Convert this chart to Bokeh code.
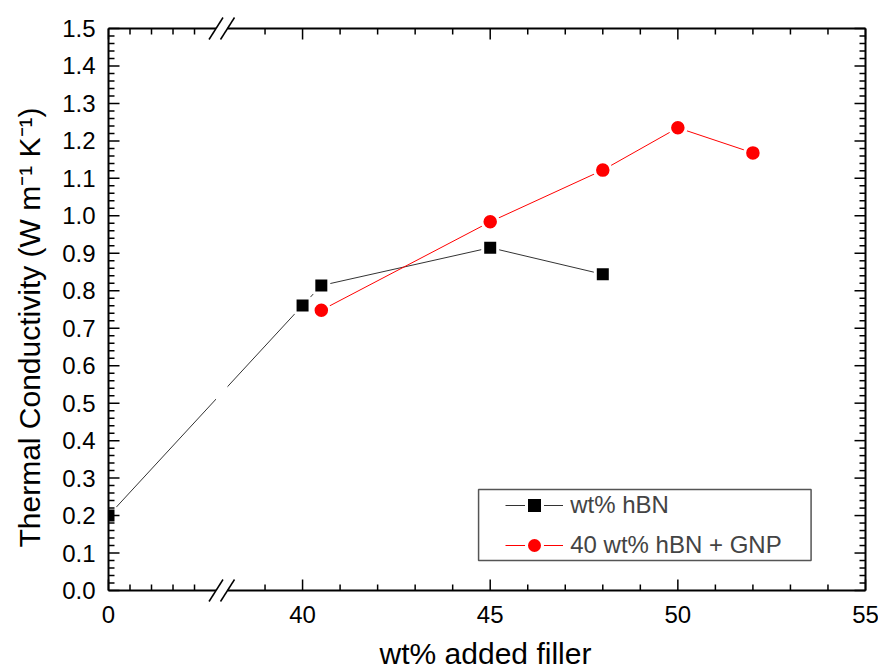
import math
from bokeh.plotting import figure
from bokeh.models import Range1d, Legend, LegendItem
from bokeh.core.properties import value
from bokeh.embed import file_html
from bokeh.resources import INLINE

# ---------------- data ----------------
hbn_wt = [0, 40, 40.5, 45, 48]
hbn_k = [0.200, 0.761, 0.814, 0.915, 0.844]

gnp_wt = [40.5, 45, 48, 50, 52]
gnp_k = [0.748, 0.984, 1.122, 1.235, 1.168]

x_major = [0, 40, 45, 50, 55]
x_labels = ["0", "40", "45", "50", "55"]
x_minor = [1, 2, 3, 4, 39, 41, 42, 43, 44, 46, 47, 48, 49, 51, 52, 53, 54]
y_major = [0.0, 0.1, 0.2, 0.3, 0.4, 0.5, 0.6, 0.7, 0.8, 0.9, 1.0, 1.1, 1.2, 1.3, 1.4, 1.5]
y_labels = ["%.1f" % v for v in y_major]
y_minor = [round(m + k * 0.02, 2) for m in y_major[:-1] for k in (1, 2, 3, 4)]

X_TITLE = "wt% added filler"
Y_TITLE = "Thermal Conductivity (W m\u207b\u00b9 K\u207b\u00b9)"
hbn_name = "wt% hBN"
gnp_name = "40 wt% hBN + GNP"

Y_MIN, Y_MAX = 0.0, 1.5

# legend box (data units) and legend anchor
legend_box_x = [44.69, 53.55]
legend_box_y = [0.080, 0.2696]
LEG_GLYPH_X = 45.52
LEG_BOTTOM_Y = 0.0667

# ---------------- broken x axis ----------------
LEFT_END = 5.0       # left segment: 0 .. 5
RIGHT_START = 38.0   # right segment: 38 .. 55
LEFT_SCALE = 0.573
GAP = 0.306
X_MAX = 55


def u(x):
    if x <= LEFT_END:
        return x * LEFT_SCALE
    return LEFT_END * LEFT_SCALE + GAP + (x - RIGHT_START)


U_MAX = u(X_MAX)

# ---------------- layout (px) ----------------
FONT = "Liberation Sans"
W, H = 878, 671
BOX_L, BOX_R, BOX_T, BOX_B = 108, 865, 28, 590
pxu = (BOX_R - BOX_L) / U_MAX
pxy = (BOX_B - BOX_T) / (Y_MAX - Y_MIN)

x_rng = Range1d(-BOX_L / pxu, U_MAX + (W - BOX_R) / pxu)
y_rng = Range1d(Y_MIN - (H - BOX_B) / pxy, Y_MAX + BOX_T / pxy)

p = figure(width=W, height=H, output_backend="svg", toolbar_location=None,
           x_range=x_rng, y_range=y_rng, x_axis_type=None, y_axis_type=None,
           title_location=None,
           min_border=0, min_border_left=0, min_border_right=0,
           min_border_top=0, min_border_bottom=0)
p.outline_line_color = None
p.background_fill_color = "white"
p.border_fill_color = "white"

# ---------------- series ----------------
hbn_u = [u(v) for v in hbn_wt]
gnp_u = [u(v) for v in gnp_wt]

l1 = p.line(hbn_u, hbn_k, line_color="#333333", line_width=1)
l2 = p.line(gnp_u, gnp_k, line_color="#ff0000", line_width=1)

# gap in the line at the axis break
p.quad(left=u(LEFT_END), right=u(RIGHT_START), bottom=0.03, top=1.47,
       fill_color="white", line_color=None)

s1 = p.scatter(hbn_u, hbn_k, marker="square", size=15, fill_color="black",
               line_color="white", line_width=3)
s2 = p.scatter(gnp_u, gnp_k, marker="circle", size=16.5, fill_color="#ff0000",
               line_color="white", line_width=3)

# clip marks to the axes box on the left
p.quad(left=-9 / pxu, right=0, bottom=Y_MIN, top=Y_MAX, fill_color="white", line_color=None)

# ---------------- axes box with inward ticks ----------------
MAJ, MIN = 11, 6
ax_x0 = [0, u(RIGHT_START), 0, u(RIGHT_START), 0, U_MAX]
ax_x1 = [u(LEFT_END), U_MAX, u(LEFT_END), U_MAX, 0, U_MAX]
ax_y0 = [Y_MIN, Y_MIN, Y_MAX, Y_MAX, Y_MIN, Y_MIN]
ax_y1 = [Y_MIN, Y_MIN, Y_MAX, Y_MAX, Y_MAX, Y_MAX]
p.segment(ax_x0, ax_y0, ax_x1, ax_y1, line_color="black", line_width=2)

tx0, ty0, tx1, ty1 = [], [], [], []
for ticks, ln in ((x_major, MAJ), (x_minor, MIN)):
    for v in ticks:
        xu = u(v)
        tx0 += [xu, xu]
        tx1 += [xu, xu]
        ty0 += [Y_MIN, Y_MAX]
        ty1 += [Y_MIN + ln / pxy, Y_MAX - ln / pxy]
for ticks, ln in ((y_major, MAJ), (y_minor, MIN)):
    for v in ticks:
        ty0 += [v, v]
        ty1 += [v, v]
        tx0 += [0, U_MAX]
        tx1 += [ln / pxu, U_MAX - ln / pxu]
p.segment(tx0, ty0, tx1, ty1, line_color="black", line_width=1.5)

# break marks
dx, dy = 7 / pxu, 11 / pxy
bx0, by0, bx1, by1 = [], [], [], []
for yb in (Y_MIN, Y_MAX):
    for xc in (u(LEFT_END), u(RIGHT_START)):
        bx0.append(xc - dx)
        by0.append(yb - dy)
        bx1.append(xc + dx)
        by1.append(yb + dy)
p.segment(bx0, by0, bx1, by1, line_color="black", line_width=1.5)

# ---------------- tick labels and titles ----------------
TICK_FS = 24
p.text(x=[u(v) for v in x_major], y=[Y_MIN - 23.7 / pxy] * len(x_major), text=x_labels,
       text_font=value(FONT), text_font_size="%dpx" % TICK_FS, text_color="black",
       text_align="center", text_baseline="middle")
p.text(x=[-13 / pxu] * len(y_major), y=y_major,
       text=y_labels, text_font=value(FONT), text_font_size="%dpx" % TICK_FS,
       text_color="black", text_align="right", text_baseline="middle")
p.text(x=[U_MAX / 2 - 1.5 / pxu], y=[Y_MIN - 63 / pxy], text=[X_TITLE],
       text_font=value(FONT), text_font_size="30px", text_color="black",
       text_align="center", text_baseline="middle")
p.text(x=[-79 / pxu], y=[Y_MIN + 263 / pxy], text=[Y_TITLE], angle=math.pi / 2,
       text_font=value(FONT), text_font_size="30px", text_color="black",
       text_align="center", text_baseline="middle")

# ---------------- legend ----------------
p.quad(left=u(legend_box_x[0]), right=u(legend_box_x[1]),
       bottom=legend_box_y[0], top=legend_box_y[1],
       fill_color="white", line_color="#555555", line_width=1.5)

LEG_PAD = 4
leg_x = (u(LEG_GLYPH_X) - x_rng.start) * pxu - LEG_PAD
leg_y = (LEG_BOTTOM_Y - y_rng.start) * pxy

legend = Legend(items=[LegendItem(label=hbn_name, renderers=[l1, s1]),
                       LegendItem(label=gnp_name, renderers=[l2, s2])],
                location=(leg_x, leg_y),
                label_text_font=FONT, label_text_font_size="24px",
                glyph_width=58, glyph_height=40, spacing=-7, padding=LEG_PAD,
                label_standoff=7, border_line_color=None,
                background_fill_alpha=0, margin=0)
p.add_layout(legend)

open("out.html", "w").write(file_html(p, INLINE))
